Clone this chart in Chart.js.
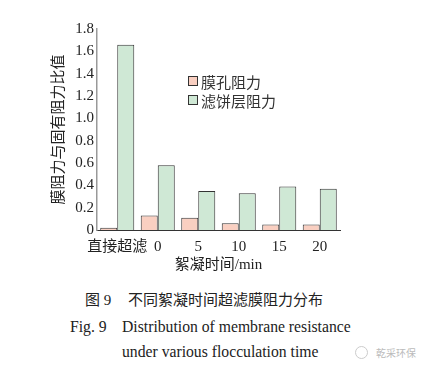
<!DOCTYPE html>
<html>
<head>
<meta charset="utf-8">
<script src="https://cdn.jsdelivr.net/npm/chart.js@4.4.1/dist/chart.umd.min.js"></script>
<style>
    body { margin: 0; background: #fff; }
    #wrap { position: relative; width: 429px; height: 375px; overflow: hidden; }
    #chartBox { position: absolute; left: 0; top: 0; width: 429px; height: 280px; }
    .txt { position: absolute; white-space: nowrap; color: #222;
           font-family: "Liberation Serif", "Noto Sans CJK SC", serif; font-size: 15px; line-height: 18px; }
    .en { font-size: 15.7px; }
    .legend-row { position: absolute; left: 188px; height: 18px; display: flex; align-items: center;
                  font-family: "Liberation Serif", "Noto Sans CJK SC", serif; font-size: 15px; color: #333; }
    .legend-row span.box { width: 8px; height: 8px; border: 1px solid #333; margin-right: 3px; }
    .mark { position: absolute; color: #bbb; font-family: "Noto Sans CJK SC", sans-serif; font-size: 10px; }
</style>
</head>
<body>
<div id="wrap">
    <div id="chartBox"><canvas id="mainChart" width="429" height="280"></canvas></div>

    <div class="legend-row" style="top:72px;"><span class="box" style="background:#f9cfc1;"></span>膜孔阻力</div>
    <div class="legend-row" style="top:91px;"><span class="box" style="background:#cfe8d5;"></span>滤饼层阻力</div>

    <div class="txt" style="left:85px; top:291px;">图 9</div>
    <div class="txt" style="left:128px; top:291px;">不同絮凝时间超滤膜阻力分布</div>
    <div class="txt en" style="left:70px; top:318px;">Fig. 9</div>
    <div class="txt en" style="left:122px; top:318px;">Distribution of membrane resistance</div>
    <div class="txt en" style="left:122px; top:343px;">under various flocculation time</div>

    <div class="mark" style="left:355px; top:346px; width:11px; height:11px; border:1px solid #ccc; border-radius:50%;"></div>
    <div class="mark" style="left:376px; top:345px;">乾采环保</div>
</div>

<script>
// data
const categories = ['直接超滤', '0', '5', '10', '15', '20'];
const poreResistance = [0.02, 0.13, 0.11, 0.06, 0.05, 0.05];
const cakeResistance = [1.66, 0.58, 0.35, 0.33, 0.39, 0.37];
const yTickLabels = ['0', '0.2', '0.4', '0.6', '0.8', '1.0', '1.2', '1.4', '1.6', '1.8'];

const fontFamily = '"Liberation Serif", "Noto Sans CJK SC", serif';

const ctx = document.getElementById('mainChart').getContext('2d');
new Chart(ctx, {
    type: 'bar',
    data: {
        labels: categories,
        datasets: [
            {
                label: '膜孔阻力',
                data: poreResistance,
                backgroundColor: '#f9cfc1',
                borderColor: '#333',
                borderWidth: 1
            },
            {
                label: '滤饼层阻力',
                data: cakeResistance,
                backgroundColor: '#cfe8d5',
                borderColor: '#333',
                borderWidth: 1
            }
        ]
    },
    options: {
        responsive: false,
        animation: false,
        layout: { padding: { left: 0, right: 89, top: 29, bottom: 0 } },
        datasets: { bar: { categoryPercentage: 0.84, barPercentage: 1.0 } },
        plugins: {
            legend: { display: false },
            tooltip: { enabled: false }
        },
        scales: {
            x: {
                grid: { display: false, drawTicks: false },
                border: { display: true, color: '#333', width: 1 },
                ticks: {
                    color: '#222', padding: 8, autoSkip: false, maxRotation: 0,
                    font: { family: fontFamily, size: 15 }
                },
                title: {
                    display: true, text: '絮凝时间/min', color: '#222',
                    font: { family: fontFamily, size: 15 }, padding: { top: 0, bottom: 6 }
                },
                afterFit: (scale) => { scale.height = 50; }
            },
            y: {
                min: 0,
                max: 1.8,
                grid: { display: false, drawTicks: false },
                border: { display: true, color: '#999', width: 1.5 },
                ticks: {
                    stepSize: 0.2,
                    color: '#222',
                    padding: 3,
                    font: { family: fontFamily, size: 15 },
                    callback: (v, i) => yTickLabels[i]
                },
                title: {
                    display: true, text: '膜阻力与固有阻力比值', color: '#222',
                    font: { family: fontFamily, size: 15 }, padding: { top: 50, bottom: 0 }
                },
                afterFit: (scale) => { scale.width = 97; }
            }
        }
    }
});
</script>
</body>
</html>
